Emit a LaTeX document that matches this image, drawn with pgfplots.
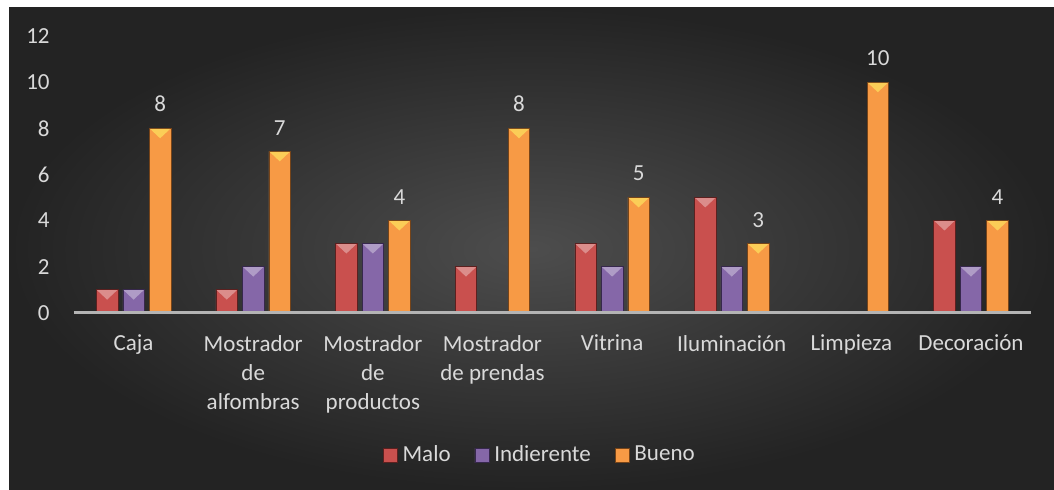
\documentclass[border=0pt]{standalone}
\usepackage{pgfplots}
\pgfplotsset{compat=1.18}
\usepackage{fontspec}
\setmainfont{Carlito}
\definecolor{bgin}{HTML}{4D4D4D}
\definecolor{bgout}{HTML}{232323}
\definecolor{txt}{HTML}{D9D9D9}
\definecolor{redE}{HTML}{9A3634}
\definecolor{redM}{HTML}{C9504E}
\definecolor{purE}{HTML}{5C4380}
\definecolor{purM}{HTML}{8567A8}
\definecolor{oraE}{HTML}{C5722A}
\definecolor{oraM}{HTML}{F79A45}
\definecolor{axln}{HTML}{B4B4B4}
\pgfdeclarehorizontalshading{redbar}{100bp}{color(0bp)=(redE); color(14bp)=(redM); color(86bp)=(redM); color(100bp)=(redE)}
\pgfdeclarehorizontalshading{purbar}{100bp}{color(0bp)=(purE); color(14bp)=(purM); color(86bp)=(purM); color(100bp)=(purE)}
\pgfdeclarehorizontalshading{orabar}{100bp}{color(0bp)=(oraE); color(14bp)=(oraM); color(86bp)=(oraM); color(100bp)=(oraE)}
\newcommand{\lblfont}{\fontsize{11.5}{14.5}\selectfont}
\pgfdeclareplotmark{bev}{%
  \pgfpathmoveto{\pgfqpoint{-5.0pt}{-0.3pt}}%
  \pgfpathlineto{\pgfqpoint{5.0pt}{-0.3pt}}%
  \pgfpathlineto{\pgfqpoint{0pt}{-5pt}}%
  \pgfpathclose\pgfusepathqfill}
\begin{document}
\begin{tikzpicture}
\fill[white] (0,0) rectangle (527pt,245pt);
\shade[inner color=bgin, outer color=bgout] (4.5pt,0) rectangle (527pt,241pt);
\begin{axis}[
  at={(36.9pt,88.65pt)}, anchor=south west,
  scale only axis, width=478.5pt, height=138.3pt,
  xmin=-0.5, xmax=7.5, ymin=0, ymax=12,
  ytick={0,2,...,12},
  xtick={0,...,7},
  xticklabels={Caja,{Mostrador\\de\\alfombras},{Mostrador\\de\\productos},{Mostrador\\de prendas},Vitrina,Iluminación,Limpieza,Decoración},
  major tick length=0pt,
  axis x line*=bottom, axis y line*=left,
  y axis line style={draw=none},
  x axis line style={draw=axln, line width=1.3pt},
  axis on top,
  clip=false,
  /pgf/number format/assume math mode=true,
  tick label style={font=\lblfont, text=txt},
  yticklabel style={anchor=east, inner sep=0pt, xshift=-11.9pt},
  xticklabel style={anchor=north, inner sep=0pt, align=center, yshift=-11pt},
  legend style={at={(0.487,-0.5145)}, anchor=center, draw=none, fill=none,
    legend columns=-1, font=\lblfont, text=txt,
    nodes={inner sep=1pt},
    /tikz/every odd column/.append style={column sep=1.5pt},
    /tikz/every even column/.append style={column sep=11pt}},
  legend image code/.code={\path[#1] (0pt,-3.5pt) rectangle (7pt,3.5pt);},
]
\addplot[ybar, bar width=10.75pt, bar shift=-13.25pt, draw=redE!60!black, line width=0.3pt,
  shading=redbar]
  coordinates {(0,1)(1,1)(2,3)(3,2)(4,3)(5,5)(7,4)};
\addlegendentry{Malo}
\addplot[ybar, bar width=10.75pt, bar shift=0pt, draw=purE!60!black, line width=0.3pt,
  shading=purbar]
  coordinates {(0,1)(1,2)(2,3)(4,2)(5,2)(7,2)};
\addlegendentry{Indierente}
\addplot[ybar, bar width=10.75pt, bar shift=13.25pt, draw=oraE!60!black, line width=0.3pt,
  shading=orabar,
  nodes near coords,
  every node near coord/.append style={font=\lblfont, text=txt, inner sep=0pt, anchor=south, xshift=13.25pt, yshift=8pt}]
  coordinates {(0,8)(1,7)(2,4)(3,8)(4,5)(5,3)(6,10)(7,4)};
\addlegendentry{Bueno}
% bevel highlights at the bar tops
\addplot[forget plot, only marks, mark=bev, mark options={xshift=-13.25pt, fill=white, fill opacity=0.35, draw=none}]
  coordinates {(0,1)(1,1)(2,3)(3,2)(4,3)(5,5)(7,4)};
\addplot[forget plot, only marks, mark=bev, mark options={fill=white, fill opacity=0.35, draw=none}]
  coordinates {(0,1)(1,2)(2,3)(4,2)(5,2)(7,2)};
\addplot[forget plot, only marks, mark=bev, mark options={xshift=13.25pt, fill=yellow!60!white, fill opacity=0.55, draw=none}]
  coordinates {(0,8)(1,7)(2,4)(3,8)(4,5)(5,3)(6,10)(7,4)};
\end{axis}
\end{tikzpicture}
\end{document}
